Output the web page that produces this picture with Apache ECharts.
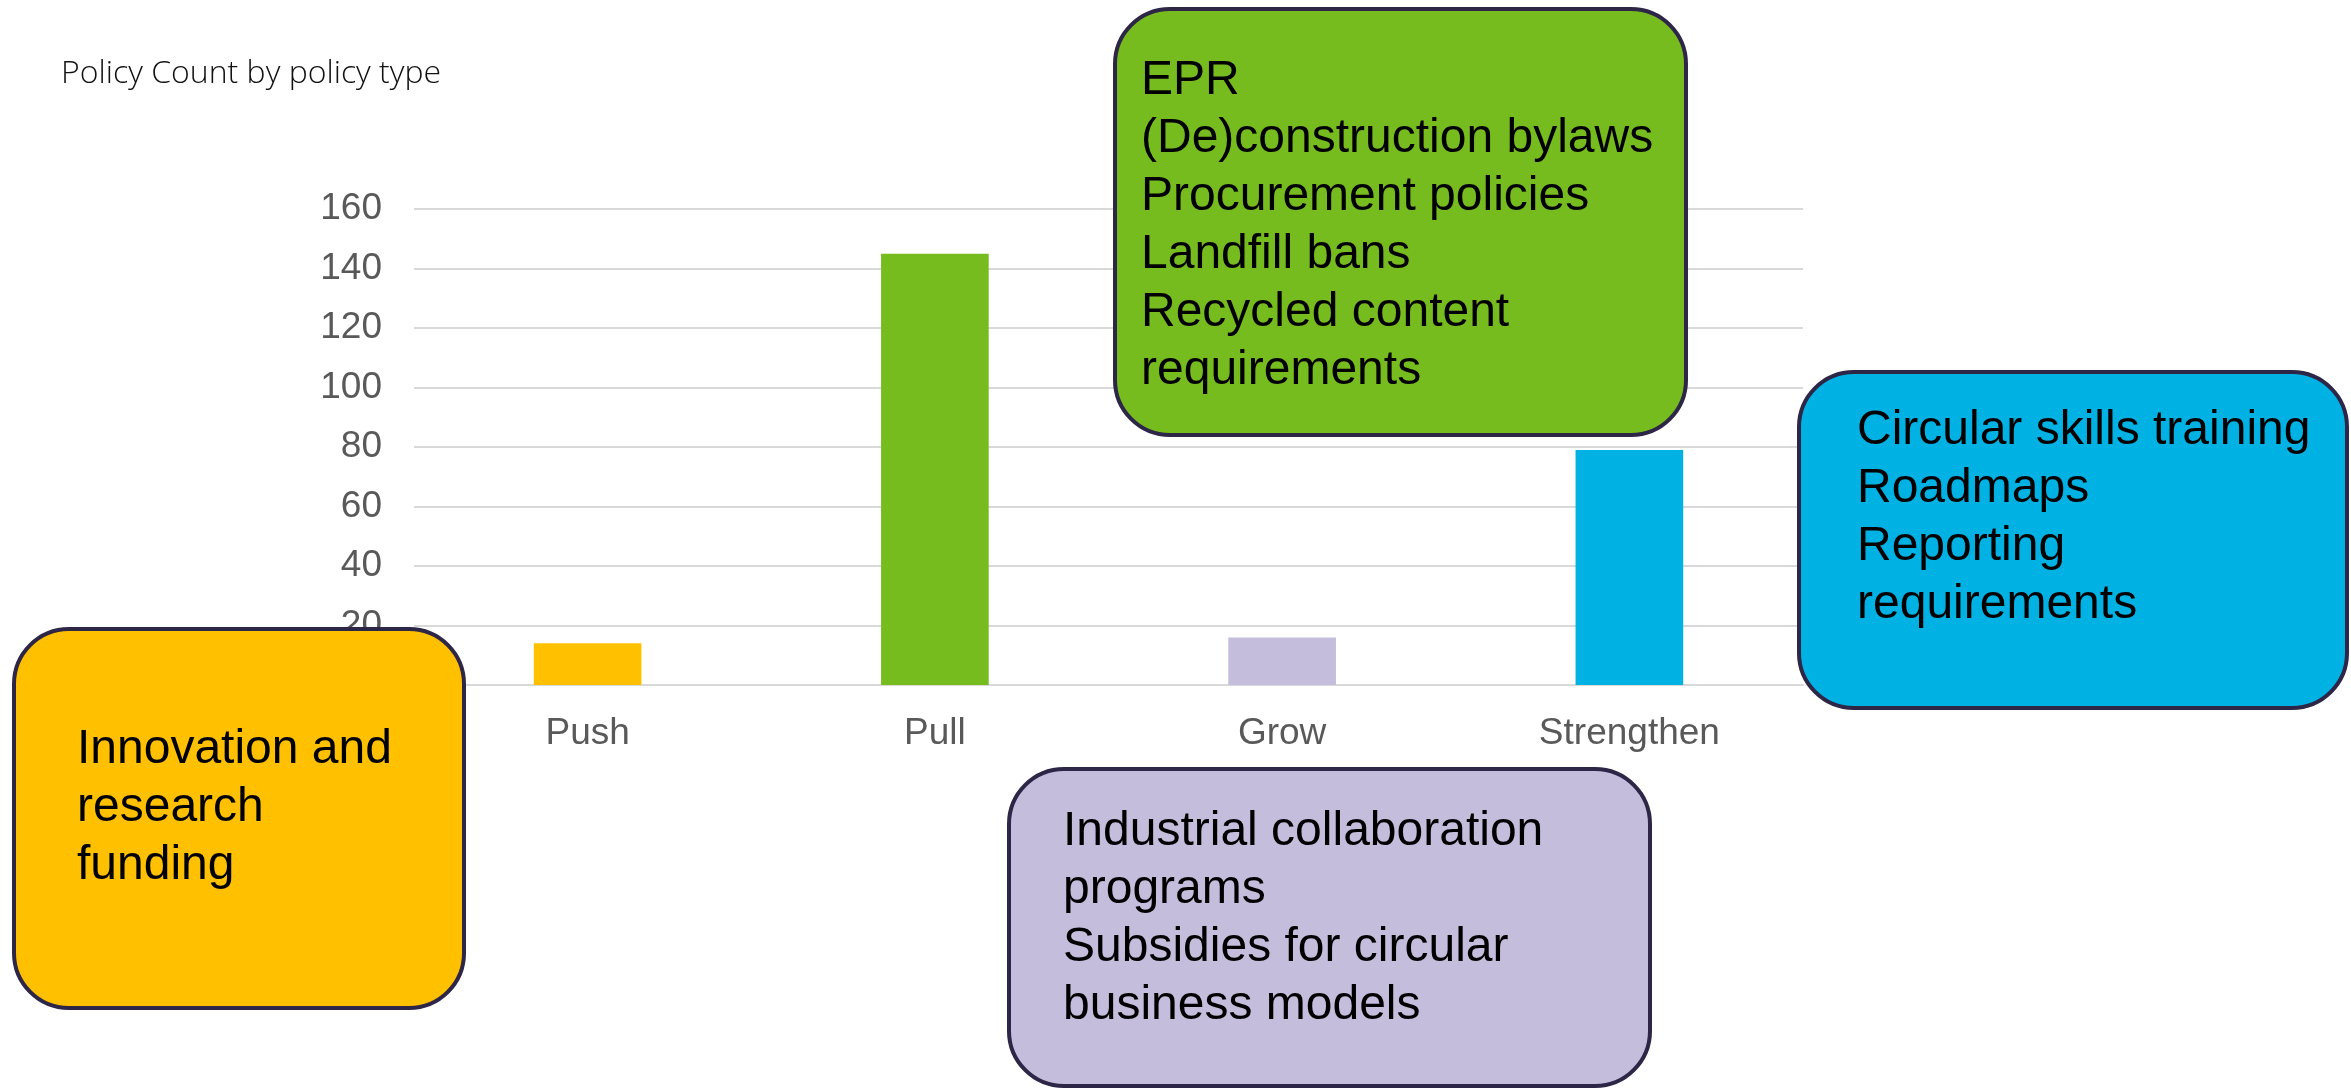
<!DOCTYPE html>
<html>
<head>
<meta charset="utf-8">
<title>Policy Count by policy type</title>
<script src="https://cdn.jsdelivr.net/npm/echarts@6/dist/echarts.min.js"></script>
<style>
  html, body { margin: 0; padding: 0; background: #fff; }
  #chart { width: 2351px; height: 1090px; }
</style>
</head>
<body>
<div id="chart"></div>
<script>
// data
const categories = ['Push', 'Pull', 'Grow', 'Strengthen']
const policyCounts = [14, 145, 16, 79]
const yTicks = [0, 20, 40, 60, 80, 100, 120, 140, 160]

// callout texts, one line per entry
const pushLines = ['Innovation and', 'research', 'funding']
const pullLines = ['EPR', '(De)construction bylaws', 'Procurement policies', 'Landfill bans', 'Recycled content', 'requirements']
const growLines = ['Industrial collaboration', 'programs', 'Subsidies for circular', 'business models']
const strengthenLines = ['Circular skills training', 'Roadmaps', 'Reporting', 'requirements']

const barColors = ['#FFC000', '#77BC1F', '#C5BDDC', '#00B2E3']
const boxBorder = '#2E2647'
const boxFont = '48px "Liberation Sans", Arial, sans-serif'

const chart = echarts.init(document.getElementById('chart'))

// rounded callout box with left aligned text
function callout(rect, fill, lines, textX, textY) {
  return [
    {
      type: 'rect',
      z: 100,
      shape: { x: rect[0], y: rect[1], width: rect[2], height: rect[3], r: 55 },
      style: { fill: fill, stroke: boxBorder, lineWidth: 4 }
    },
    {
      type: 'text',
      z: 101,
      style: {
        x: textX,
        y: textY,
        text: lines.join('\n'),
        font: boxFont,
        lineHeight: 58,
        fill: '#000',
        align: 'left',
        verticalAlign: 'top'
      }
    }
  ]
}

const option = {
  backgroundColor: '#fff',
  animation: false,
  title: {
    text: 'Policy Count by policy type',
    left: 61,
    top: 58,
    padding: 0,
    textStyle: {
      fontFamily: '"Open Sans", sans-serif',
      fontWeight: 300,
      fontSize: 32,
      color: '#111'
    }
  },
  grid: { left: 414, right: 548, top: 209, bottom: 405, containLabel: false },
  xAxis: {
    type: 'category',
    data: categories,
    axisTick: { show: false },
    axisLine: { show: true, lineStyle: { color: '#D9D9D9', width: 2 } },
    axisLabel: {
      margin: 30,
      fontSize: 37,
      fontFamily: '"Liberation Sans", Arial, sans-serif',
      color: '#595959'
    }
  },
  yAxis: {
    type: 'value',
    min: yTicks[0],
    max: yTicks[yTicks.length - 1],
    interval: yTicks[1] - yTicks[0],
    axisLine: { show: false },
    axisTick: { show: false },
    splitLine: { lineStyle: { color: '#D9D9D9', width: 2 } },
    axisLabel: {
      margin: 32,
      fontSize: 37,
      fontFamily: '"Liberation Sans", Arial, sans-serif',
      color: '#595959'
    }
  },
  series: [{
    type: 'bar',
    barWidth: '31%',
    data: policyCounts.map((v, i) => ({ value: v, itemStyle: { color: barColors[i] } }))
  }],
  graphic: [].concat(
    callout([1115, 9, 571, 426], barColors[1], pullLines, 1141, 52),
    callout([1799, 372, 548, 336], barColors[3], strengthenLines, 1857, 402),
    callout([14, 629, 450, 379], barColors[0], pushLines, 77, 721),
    callout([1009, 769, 641, 317], barColors[2], growLines, 1063, 803)
  )
}

chart.setOption(option)
</script>
</body>
</html>
